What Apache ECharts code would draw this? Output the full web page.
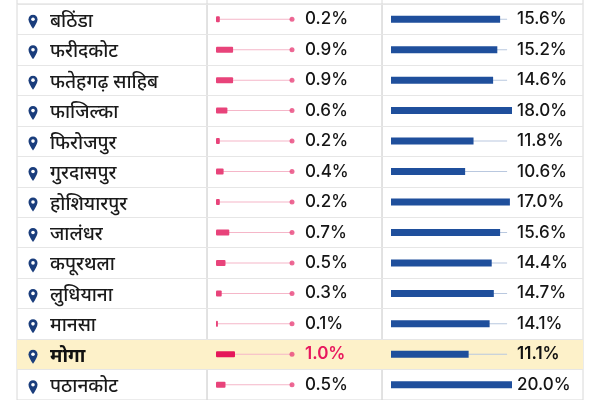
<!DOCTYPE html>
<html>
<head>
<meta charset="utf-8">
<script src="https://cdn.jsdelivr.net/npm/echarts@6/dist/echarts.min.js"></script>
<style>
  html, body { margin: 0; padding: 0; background: #fff; }
  #main { width: 600px; height: 400px; }
</style>
</head>
<body>
<div id="main"></div>
<script>
// data
var districts = ['बठिंडा', 'फरीदकोट', 'फतेहगढ़ साहिब', 'फाजिल्का', 'फिरोजपुर', 'गुरदासपुर',
  'होशियारपुर', 'जालंधर', 'कपूरथला', 'लुधियाना', 'मानसा', 'मोगा', 'पठानकोट'];
var pinkValues = [0.2, 0.9, 0.9, 0.6, 0.2, 0.4, 0.2, 0.7, 0.5, 0.3, 0.1, 1.0, 0.5];
var blueValues = [15.6, 15.2, 14.6, 18.0, 11.8, 10.6, 17.0, 15.6, 14.4, 14.7, 14.1, 11.1, 20.0];
var highlighted = 'मोगा';
var pinkTrack = 4;
var blueTrack = 16.6;

var TOP = 4, ROW = 32.3;
var H = ROW * districts.length;
var numFont = 'Inter, Roboto, sans-serif';
var nameFont = '"Noto Sans Devanagari", "Noto Sans", sans-serif';

var pinSvg = "<svg xmlns='http://www.w3.org/2000/svg' width='20' height='30' viewBox='0 0 20 30'>" +
  "<path d='M10 1C5 1 1 5 1 10c0 7 9 19 9 19s9-12 9-19c0-5-4-9-9-9z' fill='%231a3d7c'/>" +
  "<circle cx='10' cy='10' r='3.6' fill='white'/></svg>";
var pinUrl = 'data:image/svg+xml;charset=utf-8,' + pinSvg;

var rowColors = districts.map(function (d) {
  return d === highlighted ? '#fdf1c9' : 'rgba(255,255,255,0)';
});

function cellGrid(left, width, border) {
  return {
    left: left, top: TOP, width: width, height: H,
    show: border, borderColor: '#d8d8d8', borderWidth: 1, backgroundColor: 'transparent'
  };
}

var grids = [
  cellGrid(17, 190, true),
  cellGrid(207, 175, true),
  cellGrid(382, 201, true),
  cellGrid(216, 76, false),   // pink track
  cellGrid(216, 76, false),   // pink bars
  cellGrid(391, 121, false),  // blue track
  cellGrid(391, 121, false)   // blue bars
];

var xMax = [1, 1, 1, pinkTrack, pinkTrack, 17.3, 17.3];
var xAxes = xMax.map(function (m, i) {
  return { type: 'value', gridIndex: i, min: 0, max: m, show: false };
});

var yAxes = grids.map(function (g, i) {
  var table = i < 3;
  return {
    type: 'category', gridIndex: i, data: districts, inverse: true, show: true,
    axisLine: { show: false }, axisTick: { show: false },
    splitLine: { show: table, lineStyle: { color: '#e6e6e6', width: 1 } },
    splitArea: { show: table, areaStyle: { color: rowColors } },
    axisLabel: i === 0 ? {
      show: true, inside: true, margin: 11, padding: [5, 0, 0, 0],
      formatter: function (v) {
        return '{pin|}' + (v === highlighted ? '{hl|' + v + '}' : '{nm|' + v + '}');
      },
      rich: {
        pin: { width: 10, height: 15, verticalAlign: 'middle', backgroundColor: { image: pinUrl } },
        nm: { fontFamily: nameFont, fontSize: 19, color: '#1a1a1a', fontWeight: 500, lineHeight: 22, verticalAlign: 'middle', padding: [3, 0, 0, 12] },
        hl: { fontFamily: nameFont, fontSize: 19, color: '#111', fontWeight: 'bold', lineHeight: 22, verticalAlign: 'middle', padding: [3, 0, 0, 12] }
      }
    } : { show: false }
  };
});

function fill(v) { return districts.map(function () { return v; }); }

function pctLabel(values, dist, hlColor) {
  return {
    show: true, position: 'right', distance: dist,
    fontFamily: numFont, fontSize: 17, color: '#151515', fontWeight: 500,
    formatter: function (p) {
      var t = values[p.dataIndex].toFixed(1) + '%';
      return districts[p.dataIndex] === highlighted ? '{hl|' + t + '}' : t;
    },
    rich: { hl: { fontFamily: numFont, fontSize: 17, color: hlColor, fontWeight: 600 } }
  };
}

var chart = echarts.init(document.getElementById('main'));
chart.setOption({
  animation: false,
  grid: grids,
  xAxis: xAxes,
  yAxis: yAxes,
  graphic: [17, 207, 382, 583].map(function (x) {
    return { type: 'line', shape: { x1: x, y1: 0, x2: x, y2: TOP }, style: { stroke: '#d8d8d8', lineWidth: 1 }, silent: true };
  }),
  series: [
    {
      type: 'bar', xAxisIndex: 3, yAxisIndex: 3, barWidth: 1, silent: true,
      data: fill(pinkTrack), itemStyle: { color: '#f5b6c8' },
      label: pctLabel(pinkValues, 13, '#e8175d')
    },
    {
      type: 'scatter', xAxisIndex: 3, yAxisIndex: 3, symbolSize: 5, silent: true,
      data: districts.map(function (d, i) { return [pinkTrack, i]; }),
      itemStyle: { color: '#e8437a' }
    },
    {
      type: 'bar', xAxisIndex: 4, yAxisIndex: 4, barWidth: 6, silent: true,
      data: pinkValues.map(function (v, i) {
        return districts[i] === highlighted ? { value: v, itemStyle: { color: '#e5175a' } } : v;
      }),
      itemStyle: { color: '#e8437a', borderRadius: 1 }
    },
    {
      type: 'bar', xAxisIndex: 5, yAxisIndex: 5, barWidth: 1, silent: true,
      data: fill(blueTrack), itemStyle: { color: '#b9c8df' },
      label: pctLabel(blueValues, 10, '#111')
    },
    {
      type: 'bar', xAxisIndex: 6, yAxisIndex: 6, barWidth: 7, silent: true, clip: true,
      data: blueValues, itemStyle: { color: '#1f4f9c' }
    }
  ]
});
</script>
</body>
</html>
